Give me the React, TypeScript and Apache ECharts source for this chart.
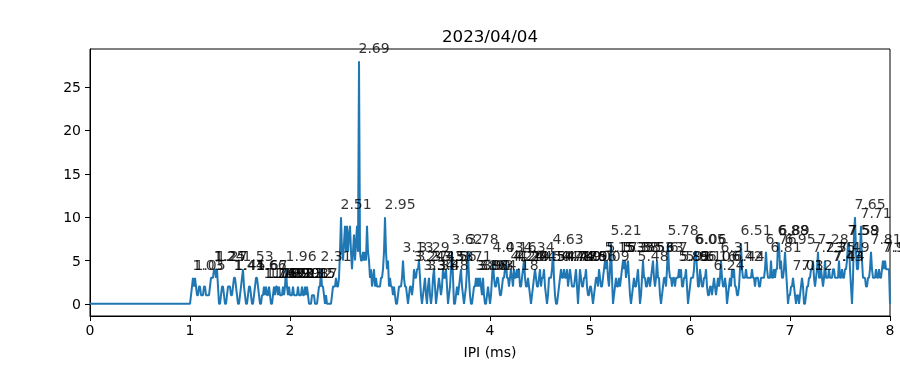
import React, { useEffect, useRef } from "react";
import * as echarts from "echarts";

const TITLE = "2023/04/04";
const X_NAME = "IPI (ms)";
const yTickValues = [0, 5, 10, 15, 20, 25];

// histogram: empty from 0 ms, then bins of 0.01 ms from 1.00 ms to 8.00 ms
const leadIn: number[][] = [[0, 0]];
const binStart = 1.0;
const binWidth = 0.01;
const counts = [
  0, 1, 2, 3, 2, 3, 2, 1, 1, 2,
  2, 1, 1, 1, 2, 2, 1, 1, 1, 1,
  2, 3, 3, 3, 4, 4, 3, 4, 2, 0,
  0, 1, 2, 2, 1, 0, 0, 1, 2, 2,
  2, 1, 1, 2, 3, 3, 2, 1, 0, 0,
  1, 2, 3, 4, 2, 1, 0, 0, 1, 2,
  2, 1, 0, 0, 1, 2, 3, 3, 2, 1,
  0, 0, 1, 1, 2, 1, 2, 1, 1, 2,
  1, 0, 0, 1, 2, 1, 2, 2, 1, 2,
  1, 1, 1, 2, 1, 2, 4, 2, 1, 2,
  1, 1, 1, 2, 1, 1, 1, 1, 2, 1,
  1, 1, 2, 1, 1, 2, 1, 2, 1, 0,
  0, 0, 1, 1, 1, 0, 0, 0, 1, 2,
  2, 4, 2, 2, 1, 0, 1, 0, 0, 0,
  0, 0, 1, 2, 2, 2, 3, 2, 2, 3,
  6, 10, 6, 5, 7, 9, 6, 9, 6, 8,
  9, 6, 4, 6, 8, 5, 7, 9, 6, 28,
  6, 5, 5, 6, 5, 6, 5, 9, 6, 5,
  3, 4, 2, 3, 4, 2, 3, 2, 2, 2,
  2, 3, 3, 4, 6, 10, 6, 4, 5, 2,
  3, 2, 2, 1, 2, 1, 0, 0, 1, 2,
  2, 2, 3, 5, 3, 2, 2, 1, 0, 1,
  2, 2, 1, 2, 4, 3, 3, 4, 4, 5,
  3, 1, 0, 1, 2, 3, 1, 0, 2, 3,
  1, 0, 1, 3, 4, 2, 0, 1, 2, 3,
  2, 1, 2, 4, 3, 3, 4, 2, 0, 1,
  2, 4, 6, 3, 0, 0, 1, 2, 1, 2,
  3, 4, 2, 1, 0, 1, 2, 4, 6, 3,
  1, 0, 0, 1, 2, 2, 3, 2, 3, 2,
  3, 2, 1, 3, 1, 0, 0, 1, 2, 1,
  0, 1, 3, 5, 3, 2, 2, 3, 3, 2,
  1, 1, 2, 3, 3, 4, 5, 3, 3, 2,
  3, 4, 3, 2, 4, 3, 3, 4, 3, 4,
  2, 2, 3, 4, 5, 3, 2, 2, 3, 2,
  1, 0, 1, 2, 3, 4, 3, 2, 2, 3,
  4, 2, 3, 3, 4, 2, 1, 0, 1, 3,
  3, 3, 4, 6, 3, 1, 0, 0, 1, 2,
  3, 4, 3, 3, 4, 3, 3, 4, 2, 3,
  4, 3, 2, 2, 2, 3, 4, 2, 0, 2,
  4, 3, 2, 2, 3, 3, 4, 2, 1, 1,
  2, 2, 1, 0, 1, 2, 3, 3, 2, 4,
  3, 2, 2, 3, 4, 5, 4, 5, 3, 2,
  4, 7, 3, 0, 1, 2, 3, 2, 2, 3,
  2, 3, 4, 5, 4, 5, 3, 4, 5, 3,
  1, 0, 1, 2, 3, 2, 2, 3, 4, 2,
  0, 1, 3, 5, 3, 3, 2, 2, 3, 3,
  2, 3, 4, 5, 3, 2, 3, 5, 3, 3,
  1, 0, 1, 2, 3, 3, 2, 4, 7, 4,
  3, 3, 2, 3, 3, 2, 3, 3, 3, 4,
  3, 4, 2, 2, 3, 3, 4, 2, 0, 1,
  2, 3, 3, 3, 4, 6, 6, 4, 2, 2,
  4, 3, 2, 2, 3, 3, 4, 2, 1, 1,
  2, 2, 1, 2, 3, 2, 1, 2, 3, 2,
  3, 5, 3, 2, 2, 3, 2, 0, 1, 2,
  3, 2, 4, 3, 4, 2, 2, 1, 1, 2,
  4, 7, 4, 3, 3, 3, 4, 3, 3, 3,
  3, 3, 4, 3, 3, 2, 3, 3, 3, 2,
  2, 3, 3, 3, 3, 4, 6, 4, 3, 3,
  3, 5, 3, 3, 4, 3, 4, 4, 7, 7,
  4, 5, 3, 3, 4, 6, 4, 2, 0, 1,
  1, 2, 2, 3, 2, 1, 0, 1, 1, 0,
  1, 2, 3, 2, 0, 0, 1, 2, 2, 3,
  3, 4, 4, 5, 3, 2, 3, 4, 6, 3,
  3, 4, 3, 2, 3, 5, 3, 3, 3, 4,
  3, 3, 3, 4, 4, 3, 3, 3, 3, 5,
  3, 3, 4, 3, 3, 4, 4, 5, 7, 7,
  4, 2, 0, 3, 8, 10, 6, 4, 4, 6,
  6, 9, 5, 3, 3, 3, 2, 2, 3, 3,
  4, 6, 4, 3, 3, 3, 4, 3, 3, 4,
  3, 3, 4, 5, 4, 5, 4, 4, 4, 4,
  0,
];

// annotated peaks (IPI in ms, count at the peak)
const peakIpi = [
  1.03, 1.05, 1.24, 1.25, 1.27, 1.44, 1.45, 1.53, 1.66, 1.67,
  1.74, 1.76, 1.79, 1.83, 1.86, 1.89, 1.93, 1.96, 1.99, 2.03, 2.08, 2.12, 2.15, 2.17,
  2.31, 2.51, 2.69, 2.95,
  3.13, 3.24, 3.27, 3.29, 3.34, 3.38, 3.43, 3.48, 3.53, 3.56, 3.62, 3.71, 3.78,
  3.86, 3.88, 3.9, 3.93, 4.03, 4.16, 4.18, 4.21, 4.24, 4.27, 4.29, 4.34,
  4.45, 4.5, 4.54, 4.63, 4.71, 4.74, 4.77, 4.8, 4.86, 4.9, 4.96, 5.09,
  5.15, 5.17, 5.21, 5.33, 5.35, 5.38, 5.48, 5.53, 5.63, 5.67, 5.78,
  5.89, 5.91, 5.96, 6.05, 6.06, 6.1, 6.16, 6.24, 6.31, 6.42, 6.44, 6.51,
  6.76, 6.81, 6.88, 6.89, 6.95, 7.03, 7.12, 7.23, 7.28, 7.35, 7.43, 7.44, 7.49,
  7.58, 7.59, 7.65, 7.71, 7.81, 7.93, 7.95,
];
const peakCount = [
  3, 3, 4, 4, 4, 3, 3, 4, 3, 3,
  2, 2, 2, 2, 2, 2, 2, 4, 2, 2, 2, 2, 2, 2,
  4, 10, 28, 10,
  5, 4, 4, 5, 3, 3, 4, 3, 4, 4, 6, 4, 6,
  3, 3, 3, 3, 5, 5, 3, 4, 4, 4, 4, 5,
  4, 4, 4, 6, 4, 4, 4, 4, 4, 4, 4, 4,
  5, 5, 7, 5, 5, 5, 4, 5, 5, 5, 7,
  4, 4, 4, 6, 6, 4, 4, 3, 5, 4, 4, 7,
  6, 5, 7, 7, 6, 3, 3, 5, 6, 5, 4, 4, 5,
  7, 7, 10, 9, 6, 5, 5,
];

const FONT = "DejaVu Sans";

export default function App() {
  const ref = useRef<HTMLDivElement>(null);
  useEffect(() => {
    if (!ref.current) return;
    const chart = echarts.init(ref.current, null, { renderer: "svg" });
    const lineData = [
      ...leadIn,
      ...counts.map((c, i) => [Number((binStart + i * binWidth).toFixed(2)), c]),
    ];
    const labelData = peakIpi.map((x, i) => [x, peakCount[i] + 1]);
    chart.setOption({
      animation: false,
      textStyle: { fontFamily: FONT },
      grid: {
        left: 90,
        right: 10,
        top: 49,
        bottom: 50,
        show: true,
        borderColor: "#000",
        borderWidth: 1,
        backgroundColor: "transparent",
      },
      graphic: [
        {
          type: "text",
          x: 490,
          y: 36,
          style: {
            text: TITLE,
            fill: "#000",
            font: `16.7px "${FONT}"`,
            align: "center",
            verticalAlign: "middle",
          },
        },
      ],
      xAxis: {
        type: "value",
        min: 0,
        max: 8,
        interval: 1,
        name: X_NAME,
        nameLocation: "middle",
        nameGap: 29,
        nameTextStyle: { color: "#000", fontSize: 14, fontFamily: FONT, verticalAlign: "top" },
        axisLine: { show: true, onZero: false, lineStyle: { color: "#000", width: 1 } },
        axisTick: { show: true, inside: false, length: 5, lineStyle: { color: "#000", width: 1 } },
        axisLabel: { color: "#000", fontSize: 14, fontFamily: FONT, margin: 7 },
        splitLine: { show: false },
      },
      yAxis: {
        type: "value",
        min: -1.4,
        max: 29.4,
        axisLine: { show: true, onZero: false, lineStyle: { color: "#000", width: 1 } },
        axisTick: {
          show: true,
          inside: false,
          length: 5,
          customValues: yTickValues,
          lineStyle: { color: "#000", width: 1 },
        },
        axisLabel: {
          color: "#000",
          fontSize: 14,
          fontFamily: FONT,
          margin: 9,
          customValues: yTickValues,
        },
        splitLine: { show: false },
      },
      series: [
        {
          type: "line",
          data: lineData,
          symbol: "none",
          showSymbol: false,
          lineStyle: { color: "#1f77b4", width: 2 },
          z: 2,
        },
        {
          type: "scatter",
          data: labelData,
          symbolSize: 1,
          itemStyle: { color: "transparent" },
          silent: true,
          clip: false,
          z: 3,
          label: {
            show: true,
            position: [0, 0],
            align: "left",
            verticalAlign: "bottom",
            offset: [0, 3],
            color: "#000",
            fontSize: 14,
            fontFamily: FONT,
            formatter: (p: any) => p.value[0].toFixed(2),
          },
        },
      ],
    });
    return () => chart.dispose();
  }, []);
  return (
    <div
      ref={ref}
      style={{ position: "fixed", left: 0, top: 0, width: 900, height: 366 }}
    />
  );
}
